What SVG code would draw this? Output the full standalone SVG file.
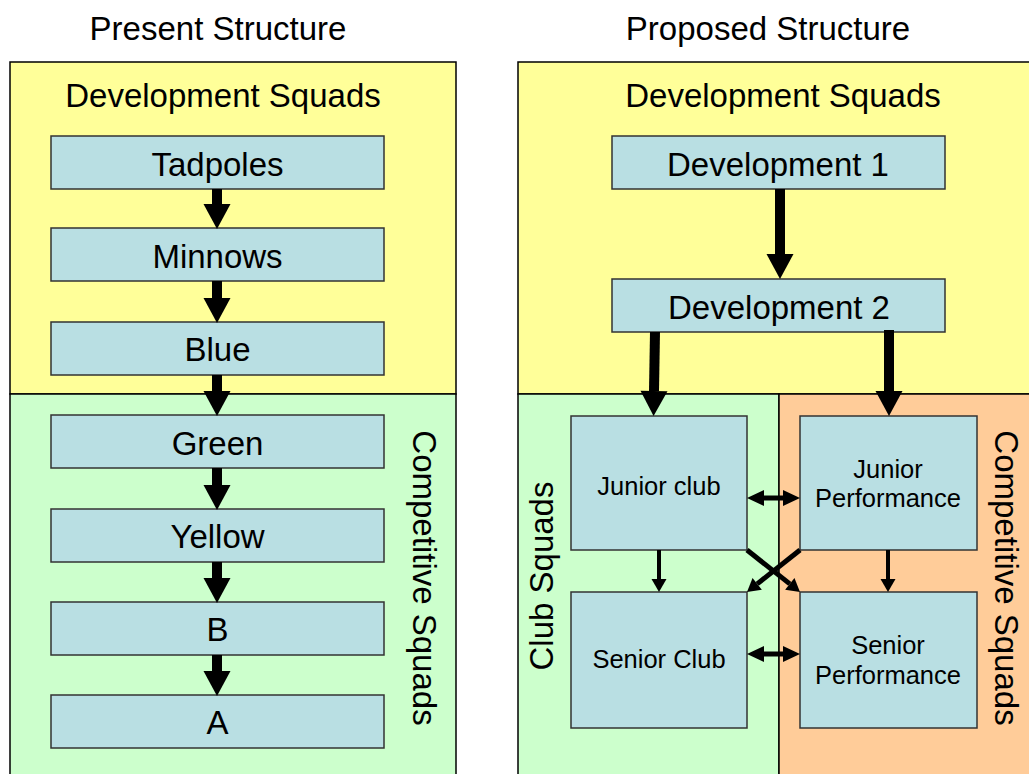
<svg xmlns="http://www.w3.org/2000/svg" width="1029" height="774" viewBox="0 0 1029 774">
<style>
text{font-family:"Liberation Sans",Arial,Helvetica,sans-serif;fill:#000;text-anchor:middle}
.t32{font-size:33px}
.t25{font-size:25.5px}
.panel{stroke:#000;stroke-width:1.5}
.yel{fill:#FFFF99}
.grn{fill:#CCFFCC}
.org{fill:#FFCC99}
.box{fill:#B9DFE3;stroke:#333;stroke-width:1.5}
.thick{stroke:#000;stroke-width:10;fill:none;marker-end:url(#headBig)}
.thin{stroke:#000;stroke-width:4;fill:none;marker-end:url(#headSmall)}
.cross{stroke:#000;stroke-width:5;fill:none;marker-end:url(#headSmall)}
.dbl{stroke:#000;stroke-width:5;fill:none;marker-start:url(#headDbl);marker-end:url(#headDbl)}
</style>
<defs>
<marker id="headBig" markerUnits="userSpaceOnUse" markerWidth="25" markerHeight="27" refX="0" refY="13.5" orient="auto" overflow="visible">
<path d="M0,0 L25,13.5 L0,27 Z" fill="#000"/>
</marker>
<marker id="headSmall" markerUnits="userSpaceOnUse" markerWidth="13" markerHeight="15" refX="0" refY="7.5" orient="auto" overflow="visible">
<path d="M0,0 L13,7.5 L0,15 Z" fill="#000"/>
</marker>
<marker id="headDbl" markerUnits="userSpaceOnUse" markerWidth="17" markerHeight="16" refX="0" refY="8" orient="auto-start-reverse" overflow="visible">
<path d="M0,0 L17,8 L0,16 Z" fill="#000"/>
</marker>
</defs>

<g id="titles">
<text class="t32" x="218" y="40">Present Structure</text>
<text class="t32" x="768" y="40">Proposed Structure</text>
</g>

<g id="present-panel">
<rect class="panel yel" x="10" y="62" width="446" height="332"/>
<rect class="panel grn" x="10" y="394" width="446" height="390"/>
<text class="t32" x="223" y="107">Development Squads</text>
<text class="t32" transform="translate(413,578) rotate(90)" x="0" y="0">Competitive Squads</text>
</g>

<g id="proposed-panel">
<rect class="panel yel" x="518" y="62" width="520" height="332"/>
<rect class="panel grn" x="518" y="394" width="261" height="390"/>
<rect class="panel org" x="779" y="394" width="260" height="390"/>
<text class="t32" x="783" y="107">Development Squads</text>
<text class="t32" transform="translate(553,576) rotate(-90)" x="0" y="0">Club Squads</text>
<text class="t32" transform="translate(995,578) rotate(90)" x="0" y="0">Competitive Squads</text>
</g>

<g id="node-tadpoles"><rect class="box" x="51" y="136" width="333" height="53"/><text class="t32" x="217.5" y="176">Tadpoles</text></g>
<g id="node-minnows"><rect class="box" x="51" y="228" width="333" height="53"/><text class="t32" x="217.5" y="268">Minnows</text></g>
<g id="node-blue"><rect class="box" x="51" y="322" width="333" height="53"/><text class="t32" x="217.5" y="361">Blue</text></g>
<g id="node-green"><rect class="box" x="51" y="415" width="333" height="53"/><text class="t32" x="217.5" y="455">Green</text></g>
<g id="node-yellow"><rect class="box" x="51" y="509" width="333" height="53"/><text class="t32" x="217.5" y="548">Yellow</text></g>
<g id="node-b"><rect class="box" x="51" y="602" width="333" height="53"/><text class="t32" x="217.5" y="641">B</text></g>
<g id="node-a"><rect class="box" x="51" y="695" width="333" height="53"/><text class="t32" x="217.5" y="734">A</text></g>

<g id="node-dev1"><rect class="box" x="612" y="136" width="333" height="53"/><text class="t32" x="778" y="176">Development 1</text></g>
<g id="node-dev2"><rect class="box" x="612" y="279" width="333" height="53"/><text class="t32" x="779" y="319">Development 2</text></g>
<g id="node-junior-club"><rect class="box" x="571" y="416" width="176" height="134"/><text class="t25" x="659" y="495">Junior club</text></g>
<g id="node-junior-performance"><rect class="box" x="800" y="416" width="177" height="134"/><text class="t25" x="888" y="478">Junior</text><text class="t25" x="888" y="507">Performance</text></g>
<g id="node-senior-club"><rect class="box" x="571" y="592" width="176" height="136"/><text class="t25" x="659" y="668">Senior Club</text></g>
<g id="node-senior-performance"><rect class="box" x="800" y="592" width="177" height="136"/><text class="t25" x="888" y="654">Senior</text><text class="t25" x="888" y="684">Performance</text></g>

<g id="connectors">
<line class="thick" x1="217" y1="189" x2="217" y2="204"/>
<line class="thick" x1="217" y1="281" x2="217" y2="298"/>
<line class="thick" x1="217" y1="375" x2="217" y2="391"/>
<line class="thick" x1="217" y1="468" x2="217" y2="485"/>
<line class="thick" x1="217" y1="562" x2="217" y2="578"/>
<line class="thick" x1="217" y1="655" x2="217" y2="671"/>
<line class="thick" x1="780" y1="189" x2="780" y2="254"/>
<line class="thick" x1="655" y1="332" x2="654" y2="391"/>
<line class="thick" x1="889" y1="330" x2="889" y2="391"/>
<line class="thin" x1="659" y1="550" x2="659" y2="579"/>
<line class="thin" x1="888" y1="550" x2="888" y2="579"/>
<line class="cross" x1="747" y1="550" x2="789.8" y2="583.9"/>
<line class="cross" x1="800" y1="550" x2="757.2" y2="583.9"/>
<line class="dbl" x1="764" y1="498" x2="783" y2="498"/>
<line class="dbl" x1="764" y1="654" x2="783" y2="654"/>
</g>
</svg>
